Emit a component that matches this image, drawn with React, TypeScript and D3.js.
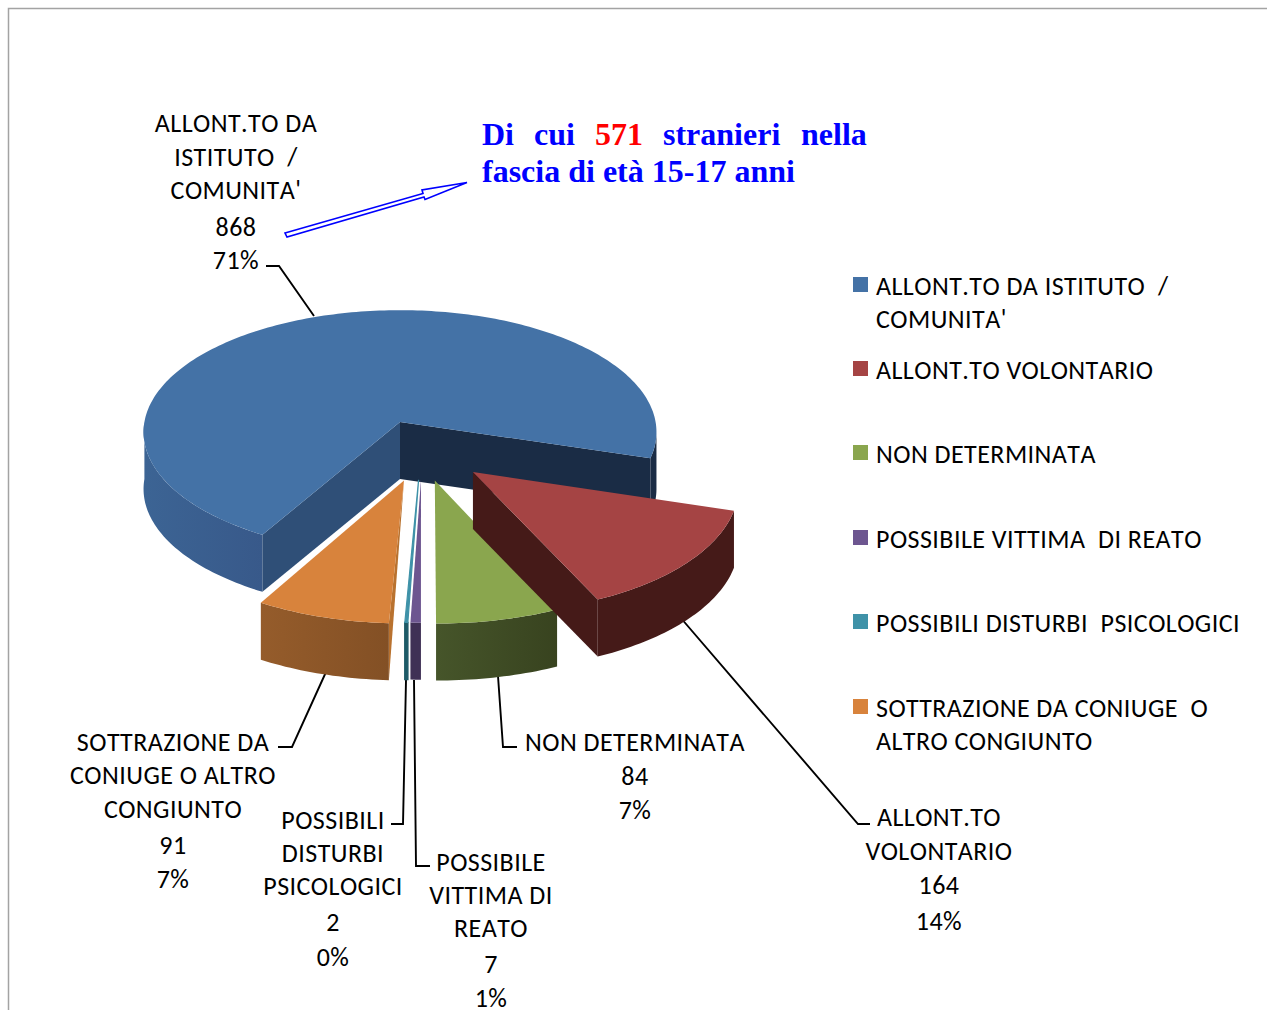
import React from "react";
import * as d3 from "d3";

const categories = [
  "ALLONT.TO DA ISTITUTO  / COMUNITA'",
  "ALLONT.TO VOLONTARIO",
  "NON DETERMINATA",
  "POSSIBILE VITTIMA  DI REATO",
  "POSSIBILI DISTURBI  PSICOLOGICI",
  "SOTTRAZIONE DA CONIUGE  O ALTRO CONGIUNTO",
];
const values = [868, 164, 84, 7, 2, 91];
const topColors = ["#4472a6", "#a54444", "#8aa64e", "#6d5690", "#3f92a8", "#d8833c"];
const wallColors = ["#3c6494", "#451a18", "#46552a", "#3f3055", "#1e5b68", "#955c2b"];
const wallColorsEnd = ["#38598a", "#451a18", "#38431f", "#3f3055", "#1e5b68", "#835025"];
const legendLines = [
  ["ALLONT.TO DA ISTITUTO  /", "COMUNITA'"],
  ["ALLONT.TO VOLONTARIO"],
  ["NON DETERMINATA"],
  ["POSSIBILE VITTIMA  DI REATO"],
  ["POSSIBILI DISTURBI  PSICOLOGICI"],
  ["SOTTRAZIONE DA CONIUGE  O", "ALTRO CONGIUNTO"],
];
const legendY = [295, 379, 463, 548, 632, 717];
const labelLines = [
  ["ALLONT.TO DA", "ISTITUTO  /", "COMUNITA'", "868", "71%"],
  ["ALLONT.TO", "VOLONTARIO", "164", "14%"],
  ["NON DETERMINATA", "84", "7%"],
  ["POSSIBILE", "VITTIMA DI", "REATO", "7", "1%"],
  ["POSSIBILI", "DISTURBI", "PSICOLOGICI", "2", "0%"],
  ["SOTTRAZIONE DA", "CONIUGE O ALTRO", "CONGIUNTO", "91", "7%"],
];
const labelX = [236, 939, 635, 491, 333, 173];
const labelBaselines = [
  [132, 166, 199, 236, 269],
  [826, 860, 894, 930],
  [751, 785, 819],
  [871, 904, 937, 973, 1007],
  [829, 862, 895, 931, 966],
  [751, 784, 818, 854, 888],
];
const leaders: [number, number][][] = [
  [[266, 266], [279, 266], [314, 316]],
  [[870, 824], [858, 824], [680, 617]],
  [[517, 747], [503, 747], [498, 676]],
  [[430, 866], [416, 866], [414, 680]],
  [[391, 824], [403, 824], [406, 680]],
  [[278, 747], [292, 747], [326, 672]],
];
// exploded offset of each slice on the pie's ground plane, in radii
const explodeX = [0, 0.276, 0.131, 0.079, 0.07, 0.015];
const explodeY = [0, 0.4, 0.465, 0.46, 0.46, 0.465];
const drawOrder = [0, 5, 4, 3, 2, 1];

const CX = 400, CY = 422, A = 255.6, B = 121, P = 0.082, DEPTH = 57;
const FONT = "Carlito, Lato, 'Open Sans', sans-serif";
const TEXT_STYLE: React.CSSProperties = { whiteSpace: "pre", fontKerning: "none", letterSpacing: "0.45px" };

const pie = d3.pie<number>().sort(null).startAngle((210 * Math.PI) / 180).endAngle((570 * Math.PI) / 180);
const arcs = pie(values);

function project(gx: number, gy: number, dz = 0): [number, number] {
  const w = 1 - P * gy;
  return [CX + (A * gx) / w, CY + (B * gy) / w + dz];
}
function rim(i: number, a: number, dz = 0): [number, number] {
  return project(explodeX[i] + Math.sin(a), explodeY[i] - Math.cos(a), dz);
}
function apex(i: number, dz = 0): [number, number] {
  return project(explodeX[i], explodeY[i], dz);
}
function rimPoints(i: number, a0: number, a1: number, dz = 0): [number, number][] {
  const n = Math.max(2, Math.ceil(Math.abs(a1 - a0) / 0.02));
  return d3.range(n + 1).map((k) => rim(i, a0 + ((a1 - a0) * k) / n, dz));
}
const line = d3.line();
const closed = (pts: [number, number][]) => line(pts) + "Z";

function Slice({ i }: { i: number }) {
  const { startAngle: s, endAngle: e } = arcs[i];
  const top = closed([apex(i), ...rimPoints(i, s, e)]);
  const faces: React.ReactNode[] = [];
  if (i === 0) {
    const wallStart = (270 * Math.PI) / 180;
    const rightStart = e - (12 * Math.PI) / 180;
    faces.push(<path key="o" d={closed([...rimPoints(i, s, wallStart), ...rimPoints(i, wallStart, s, DEPTH)])} fill="url(#wall0)" />);
    faces.push(<path key="r" d={closed([...rimPoints(i, rightStart, e), ...rimPoints(i, e, rightStart, DEPTH)])} fill="#1a2c45" />);
    faces.push(<path key="a" d={closed([apex(i), rim(i, s), rim(i, s, DEPTH), apex(i, DEPTH)])} fill="#2f4f77" />);
    faces.push(<path key="b" d={closed([apex(i), rim(i, e), rim(i, e, DEPTH), apex(i, DEPTH)])} fill="#1a2c45" />);
  } else if (i === 1) {
    faces.push(<path key="a" d={closed([apex(i), rim(i, e), rim(i, e, DEPTH), apex(i, DEPTH)])} fill={wallColors[i]} />);
    faces.push(<path key="o" d={closed([...rimPoints(i, s, e), ...rimPoints(i, e, s, DEPTH)])} fill={wallColors[i]} />);
  } else {
    if (i === 5) {
      faces.push(<path key="a" d={closed([apex(i), rim(i, s), rim(i, s, DEPTH)])} fill="#b9722f" />);
    }
    faces.push(
      <path
        key="o"
        d={closed([...rimPoints(i, s, e), ...rimPoints(i, e, s, DEPTH)])}
        fill={`url(#wall${i})`}
        stroke={i === 4 ? wallColors[i] : "none"}
        strokeWidth={i === 4 ? 1.5 : 0}
      />
    );
  }
  return (
    <g>
      {faces}
      <path d={top} fill={topColors[i]} stroke={i === 4 ? topColors[i] : "none"} strokeWidth={i === 4 ? 1.2 : 0} />
    </g>
  );
}

export default function App() {
  const wallX = (i: number): [number, number] => {
    if (i === 0) return [143, 263];
    const a = rim(i, arcs[i].startAngle)[0], b = rim(i, arcs[i].endAngle)[0];
    return [Math.min(a, b), Math.max(a, b)];
  };
  return (
    <svg width={1267} height={1010} style={{ position: "absolute", left: 0, top: 0, background: "#fff" }} fontFamily={FONT}>
      <defs>
        {values.map((_, i) => {
          const [x0, x1] = wallX(i);
          return (
            <linearGradient key={i} id={`wall${i}`} gradientUnits="userSpaceOnUse" x1={x0} x2={x1} y1={0} y2={0}>
              <stop offset="0" stopColor={wallColors[i]} />
              <stop offset="1" stopColor={wallColorsEnd[i]} />
            </linearGradient>
          );
        })}
      </defs>
      <path d="M8.5,1010V8.5H1267" fill="none" stroke="#a3a3a3" strokeWidth={1.5} />

      {leaders.map((pts, i) => (
        <path key={i} d={line(pts) || ""} fill="none" stroke="#000" strokeWidth={1.9} />
      ))}

      {drawOrder.map((i) => (
        <Slice key={i} i={i} />
      ))}

      {labelLines.map((lines, i) => (
        <g key={i} textAnchor="middle" fontSize={26} fill="#000">
          {lines.map((t, k) => (
            <text key={k} x={labelX[i]} y={labelBaselines[i][k]} style={TEXT_STYLE}>
              {t}
            </text>
          ))}
        </g>
      ))}

      {categories.map((c, i) => (
        <g key={c}>
          <rect x={853} y={legendY[i] - 18} width={15} height={15} fill={topColors[i]} />
          {legendLines[i].map((t, k) => (
            <text key={k} x={876} y={legendY[i] + k * 33} fontSize={26} fill="#000" style={TEXT_STYLE}>
              {t}
            </text>
          ))}
        </g>
      ))}

      <path
        d="M285,233L423,193.5L422,190L467,182.5L425,199.5L424,197L287,237Z"
        fill="#fff"
        stroke="#0000ff"
        strokeWidth={1.6}
      />
      <g fontFamily="'Liberation Serif', serif" fontWeight="bold" fontSize={32} fill="#0000ff">
        <text x={482} y={145}>Di</text>
        <text x={534} y={145}>cui</text>
        <text x={595} y={145} fill="#ff0000">571</text>
        <text x={663} y={145}>stranieri</text>
        <text x={801} y={145}>nella</text>
        <text x={482} y={182}>fascia di età 15-17 anni</text>
      </g>
    </svg>
  );
}
